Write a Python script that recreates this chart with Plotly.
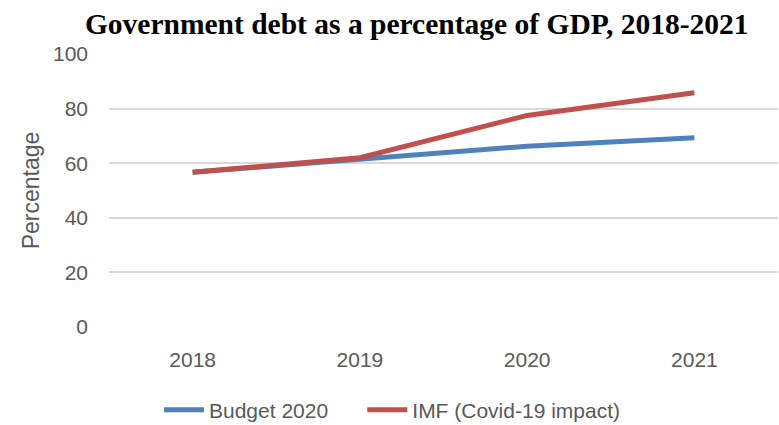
import plotly.graph_objects as go

years = ["2018", "2019", "2020", "2021"]
budget_2020 = [56.7, 61.6, 66.2, 69.3]
imf_covid = [56.7, 62.0, 77.5, 85.8]
y_ticks = [0, 20, 40, 60, 80, 100]

fig = go.Figure()
fig.add_trace(go.Scatter(x=years, y=budget_2020, mode="lines",
                         name="Budget 2020" + "\u00a0" * 5,
                         line=dict(color="#4F81BD", width=5)))
fig.add_trace(go.Scatter(x=years, y=imf_covid, mode="lines", name="IMF (Covid-19 impact)",
                         line=dict(color="#C0504D", width=5)))

tick_font = dict(family="Liberation Sans", size=21, color="#595959")
fig.update_layout(
    width=779, height=425,
    margin=dict(l=109, r=1, t=54, b=98),
    paper_bgcolor="white", plot_bgcolor="white",
    title=dict(text="<b>Government debt as a percentage of GDP, 2018-2021</b>",
               font=dict(family="Liberation Serif", size=29.5, color="black"),
               x=0.535, xanchor="center", y=0.945, yanchor="middle"),
    showlegend=True,
    legend=dict(orientation="h", xref="container", yref="container",
                x=159 / 779, xanchor="left", y=0.035, yanchor="middle",
                font=tick_font, itemwidth=40, tracegroupgap=0),
    xaxis=dict(type="category", range=[-0.5, 3.5], showgrid=False, showline=False,
               zeroline=False, tickfont=tick_font, ticklabelstandoff=18),
    yaxis=dict(range=[0, 100], tickvals=y_ticks, showgrid=True, gridcolor="#D9D9D9",
               gridwidth=1.5, zeroline=False, showline=False, tickfont=tick_font,
               ticklabelstandoff=20,
               title=dict(text="Percentage", font=dict(family="Liberation Sans", size=23, color="#595959"),
                          standoff=6)),
)
fig.write_html("out.html")
